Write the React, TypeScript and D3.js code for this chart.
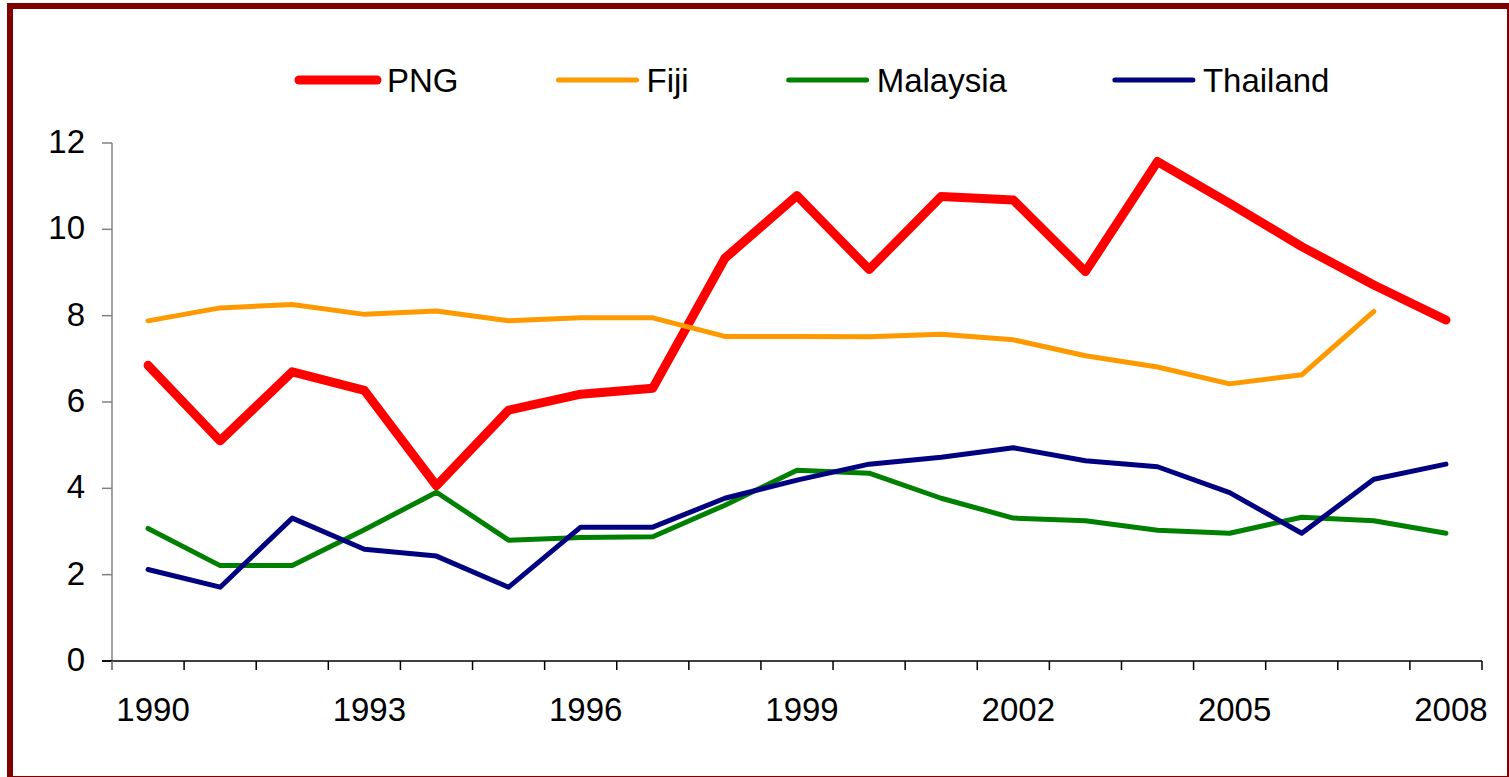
import React, { useEffect, useRef } from 'react';
import * as d3 from 'd3';

const years = [
  1990, 1991, 1992, 1993, 1994, 1995, 1996, 1997, 1998, 1999,
  2000, 2001, 2002, 2003, 2004, 2005, 2006, 2007, 2008,
];
const labelYears = [1990, 1993, 1996, 1999, 2002, 2005, 2008];
const yTicks = [0, 2, 4, 6, 8, 10, 12];

const png = [6.85, 5.1, 6.7, 6.27, 4.06, 5.81, 6.18, 6.32, 9.33, 10.78, 9.07, 10.76, 10.68, 9.02, 11.57, 10.6, 9.6, 8.71, 7.9];
const fiji = [7.88, 8.18, 8.26, 8.03, 8.11, 7.88, 7.95, 7.95, 7.52, 7.52, 7.51, 7.57, 7.44, 7.07, 6.81, 6.42, 6.63, 8.1, null];
const malaysia = [3.07, 2.21, 2.21, 3.04, 3.91, 2.8, 2.86, 2.88, 3.61, 4.42, 4.35, 3.77, 3.31, 3.25, 3.03, 2.96, 3.33, 3.25, 2.96];
const thailand = [2.12, 1.71, 3.31, 2.59, 2.43, 1.71, 3.1, 3.1, 3.77, 4.19, 4.56, 4.72, 4.94, 4.64, 4.5, 3.9, 2.96, 4.21, 4.56];

const seriesNames = ['PNG', 'Fiji', 'Malaysia', 'Thailand'];
const seriesValues = [png, fiji, malaysia, thailand];
const seriesColors = ['#ff0000', '#ff9900', '#008000', '#000080'];
const seriesWidths = [9, 5, 5, 5];

const W = 1509;
const H = 777;
const FONT = '"Liberation Sans", Arial, sans-serif';

export default function App() {
  const svgRef = useRef<SVGSVGElement>(null);

  useEffect(() => {
    if (!svgRef.current) return;
    const svg = d3.select(svgRef.current);
    svg.selectAll('*').remove();

    const plot = { left: 112, right: 1482, top: 143, bottom: 661 };

    const x = d3.scaleBand<number>()
      .domain(years)
      .range([plot.left, plot.right])
      .padding(0);
    const y = d3.scaleLinear().domain([0, 12]).range([plot.bottom, plot.top]);
    const cx = (yr: number) => (x(yr) as number) + x.bandwidth() / 2;

    // outer frame
    svg.append('rect')
      .attr('x', 10).attr('y', 6)
      .attr('width', 1500).attr('height', 773)
      .attr('fill', 'white')
      .attr('stroke', '#800000')
      .attr('stroke-width', 6);

    // y axis
    const yAxis = svg.append('g').attr('transform', `translate(${plot.left},0)`);
    yAxis.append('line')
      .attr('x1', 0).attr('x2', 0)
      .attr('y1', y(12)).attr('y2', y(0) + 9)
      .attr('stroke', '#808080').attr('stroke-width', 1.5);
    yTicks.forEach(t => {
      yAxis.append('line')
        .attr('x1', -10).attr('x2', 0)
        .attr('y1', y(t)).attr('y2', y(t))
        .attr('stroke', t === 0 ? '#000' : '#808080').attr('stroke-width', 1.5);
      yAxis.append('text')
        .attr('x', -27).attr('y', y(t) + 10)
        .attr('text-anchor', 'end')
        .attr('font-family', FONT).attr('font-size', 33)
        .attr('fill', '#000')
        .text(t);
    });

    // x axis
    const xAxis = svg.append('g');
    xAxis.append('line')
      .attr('x1', plot.left - 10).attr('x2', plot.right)
      .attr('y1', plot.bottom).attr('y2', plot.bottom)
      .attr('stroke', '#000').attr('stroke-width', 1.5);
    years.forEach((yr, i) => {
      const tx = x(yr) as number;
      xAxis.append('line')
        .attr('x1', tx).attr('x2', tx)
        .attr('y1', plot.bottom).attr('y2', plot.bottom + 9)
        .attr('stroke', i === 0 ? '#808080' : '#000').attr('stroke-width', 1.5);
    });
    xAxis.append('line')
      .attr('x1', plot.right).attr('x2', plot.right)
      .attr('y1', plot.bottom).attr('y2', plot.bottom + 9)
      .attr('stroke', '#000').attr('stroke-width', 1.5);
    labelYears.forEach(yr => {
      xAxis.append('text')
        .attr('x', cx(yr) + 5).attr('y', 721)
        .attr('text-anchor', 'middle')
        .attr('font-family', FONT).attr('font-size', 33)
        .attr('fill', '#000')
        .text(yr);
    });

    // series lines
    const line = d3.line<number | null>()
      .defined(d => d !== null)
      .x((_, i) => cx(years[i]))
      .y(d => y(d as number));

    seriesValues.forEach((vals, k) => {
      svg.append('path')
        .datum(vals)
        .attr('d', line)
        .attr('fill', 'none')
        .attr('stroke', seriesColors[k])
        .attr('stroke-width', seriesWidths[k])
        .attr('stroke-linejoin', 'round')
        .attr('stroke-linecap', 'round');
    });

    // legend
    const legend = svg.append('g');
    let lx = 299;
    const ly = 80;
    seriesNames.forEach((name, k) => {
      legend.append('line')
        .attr('x1', lx).attr('x2', lx + 78)
        .attr('y1', ly).attr('y2', ly)
        .attr('stroke', seriesColors[k])
        .attr('stroke-width', seriesWidths[k])
        .attr('stroke-linecap', 'round');
      const txt = legend.append('text')
        .attr('x', lx + 88).attr('y', ly + 12)
        .attr('font-family', FONT).attr('font-size', 33)
        .attr('fill', '#000')
        .text(name);
      const w = (txt.node() as SVGTextElement).getComputedTextLength();
      lx = lx + 88 + w + (k === 2 ? 108 : 100);
    });
  }, []);

  return (
    <svg
      ref={svgRef}
      width={W}
      height={H}
      style={{ position: 'absolute', left: 0, top: 0, background: 'white' }}
    />
  );
}
